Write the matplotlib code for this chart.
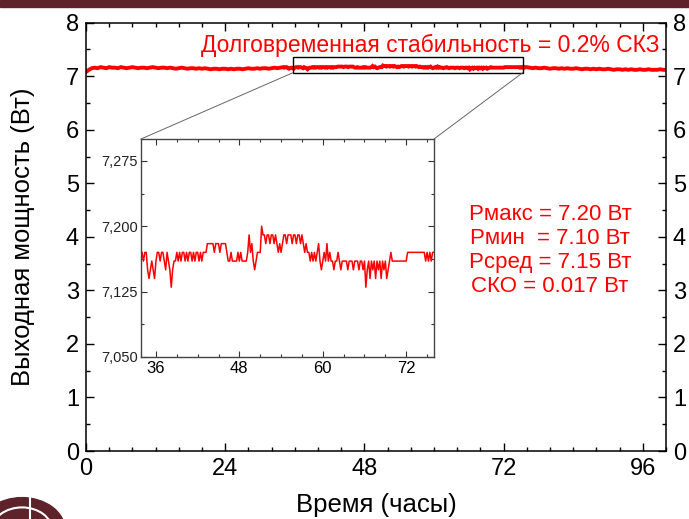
import numpy as np
import matplotlib
matplotlib.use("Agg")
import matplotlib.pyplot as plt
from matplotlib.ticker import MultipleLocator, FuncFormatter
from matplotlib.patches import Rectangle, ConnectionPatch, Circle
from matplotlib.lines import Line2D

plt.rcParams['font.family'] = ['Liberation Sans', 'DejaVu Sans']

# ---- data (power offsets in 0.01 W above 7.00 W) ----
left_start, left_step = 0.0, 0.5
left_cw = [8, 12, 15, 16, 15, 17, 16, 15, 17, 16, 16, 15, 17, 16, 15, 16, 17, 16, 15, 16,
           16, 15, 16, 17, 16, 15, 16, 16, 15, 16, 15, 14, 15, 16, 15, 14, 15, 15, 14, 15,
           14, 15, 14, 13, 14, 14, 13, 14, 14, 13, 14, 13, 14, 14, 13, 14, 15, 14, 14, 15,
           14, 15, 15, 14, 15, 16, 15, 16]

inset_start, inset_step = 34.0, 0.2
inset_cw = [17, 16, 17, 17, 15, 14, 15, 16, 15, 14,
            16, 17, 17, 16, 17, 17, 16, 15, 17, 16,
            15, 13, 15, 16, 16, 17, 16,
            17, 16, 17, 17, 16, 17, 16, 17, 17, 16, 17, 16, 17, 17, 16, 17, 16, 17, 17,
            17, 18, 18, 18,
            18, 18, 17, 18, 18, 18, 17, 18, 18, 18, 18, 17,
            16, 16, 17, 16, 16, 16, 16, 17, 16, 17, 16, 16, 16, 16,
            17, 19, 17, 18, 16, 15, 16, 17, 17, 17,
            20, 19, 19, 18, 19, 19, 18, 19, 19, 18, 19, 18, 17, 18, 17, 18,
            19, 19, 18, 19, 19, 19, 18, 19, 19, 18, 19, 19, 18, 19,
            18, 17, 18, 17, 17, 16, 17, 16, 17, 16, 17, 18, 16, 15, 16, 17, 16, 18, 16, 17,
            16, 16, 15, 16, 16, 17, 16, 15, 16, 16,
            16, 16, 15, 16, 16, 16, 15, 16, 16, 16, 15, 16, 16, 15, 16,
            13, 15, 16, 14, 16, 15, 16, 14, 16, 15, 16, 14, 16, 15, 16, 14, 15, 16,
            17, 16, 16,
            16, 16, 16, 16, 16, 16, 16, 16, 16,
            17, 17, 17,
            17, 17, 17, 17, 17, 17, 17, 17, 17, 17,
            16, 17, 16, 17, 16, 17, 17]

right_start, right_step = 76.5, 0.5
right_cw = [16, 15, 16, 15, 15, 16, 15, 14, 15, 15, 14, 15, 14, 15, 14, 14, 15, 14, 13, 14,
            14, 13, 14, 13, 14, 13, 13, 14, 13, 12, 13, 13, 12, 13, 12, 13, 12, 12, 13, 12,
            12, 13, 12, 12, 12, 13, 12, 12]

stats_text = "Рмакс = 7.20 Вт\nРмин  = 7.10 Вт\nРсред = 7.15 Вт\nСКО = 0.017 Вт"
title_text = "Долговременная стабильность = 0.2% СКЗ"
x_major = [0, 24, 48, 72, 96]
inset_x_major = [36, 48, 60, 72]
inset_y_major = [7.050, 7.125, 7.200, 7.275]

# ---- build series ----
t_left = left_start + left_step * np.arange(len(left_cw))
t_inset = inset_start + inset_step * np.arange(len(inset_cw))
t_right = right_start + right_step * np.arange(len(right_cw))
p_left = 7.0 + np.array(left_cw) / 100.0
p_inset = 7.0 + np.array(inset_cw) / 100.0
p_right = 7.0 + np.array(right_cw) / 100.0
t_all = np.concatenate([t_left, t_inset, t_right])
p_all = np.concatenate([p_left, p_inset, p_right])

W, H = 689, 519
fig = plt.figure(figsize=(W / 100, H / 100), dpi=100)

RED = '#ff0000'
MAROON = '#5e222b'
ax = fig.add_axes([86 / W, 1 - 451 / H, 580 / W, 428.3 / H])
ax.plot(t_all, p_all, color=RED, lw=2.8, solid_joinstyle='miter')
ax.set_xlim(0, 100)
ax.set_ylim(0, 8)
ax.set_xticks(x_major)
ax.xaxis.set_minor_locator(MultipleLocator(4))
ax.yaxis.set_major_locator(MultipleLocator(1))
ax.yaxis.set_minor_locator(MultipleLocator(0.5))
ax.tick_params(which='both', direction='in', top=True, right=True, labelright=True,
               labelsize=17, width=1)
ax.tick_params(which='major', length=6)
ax.tick_params(axis='y', which='major', pad=5)
ax.tick_params(axis='x', which='major', pad=5)
ax.tick_params(which='minor', length=3)
for s in ax.spines.values():
    s.set_linewidth(1.1)
ax.set_ylabel("Выходная мощность (Вт)", fontsize=18.5, va='center')
ax.yaxis.set_label_coords(-0.109, 0.5)
ax.set_xlabel("Время (часы)", fontsize=18.5, va='center')
ax.xaxis.set_label_coords(0.5, -0.125)

ax.text(59.3, 7.57, title_text, color=RED, fontsize=16.5, ha='center', va='center')
ax.text(80.0, 3.74, stats_text, color=RED, fontsize=16, ha='center', va='center',
        multialignment='center', linespacing=1.18)

# zoom rectangle
rx0, rx1, ry0, ry1 = 35.7, 75.3, 7.067, 7.354
ax.add_patch(Rectangle((rx0, ry0), rx1 - rx0, ry1 - ry0, fill=False,
                       edgecolor='black', lw=1.0, zorder=3))

# inset
axi = fig.add_axes([141 / W, 1 - 357 / H, 293 / W, 218 / H])
axi.plot(t_inset, p_inset, color=RED, lw=1.1)
axi.set_xlim(33.85, 76.0)
axi.set_ylim(7.05, 7.30)
axi.set_xticks(inset_x_major)
axi.xaxis.set_minor_locator(MultipleLocator(3))
axi.set_yticks(inset_y_major)
axi.yaxis.set_minor_locator(MultipleLocator(0.0375))
axi.yaxis.set_major_formatter(FuncFormatter(lambda v, p: f"{v:.3f}".replace('.', ',')))
axi.tick_params(which='both', direction='in', top=True, right=True, width=0.8,
                colors='#333333')
axi.tick_params(axis='x', labelsize=12, labelcolor='black', pad=3)
axi.tick_params(axis='y', labelsize=10.5, labelcolor='#222222', pad=2)
axi.tick_params(which='major', length=4)
axi.tick_params(which='minor', length=2.5)
for s in axi.spines.values():
    s.set_linewidth(1.0)
    s.set_color('#444444')

for xa, xb in [(rx0, 0.0), (rx1, 1.0)]:
    con = ConnectionPatch(xyA=(xa, ry0), coordsA=ax.transData,
                          xyB=(xb, 1.0), coordsB=axi.transAxes,
                          color='#666666', lw=0.7)
    fig.add_artist(con)

# decorations: top bar and logo fragment
fig.add_artist(Rectangle((0, 1 - 7 / H), 1, 7 / H, transform=fig.transFigure,
                         color=MAROON, zorder=10))
fig.add_artist(Circle((22 / W, 1 - 530 / H), 43 / W, transform=fig.transFigure,
                      color=MAROON, zorder=10, clip_on=False))
fig.add_artist(Circle((22 / W, 1 - 530 / H), 30 / W, transform=fig.transFigure,
                      facecolor='none', edgecolor='white', lw=1.5, zorder=11))
fig.add_artist(Line2D([30 / W, 30 / W], [1 - 519 / H, 1 - 497 / H],
                      transform=fig.transFigure, color='white', lw=1.5, zorder=11))

fig.savefig("out.png", dpi=100)
